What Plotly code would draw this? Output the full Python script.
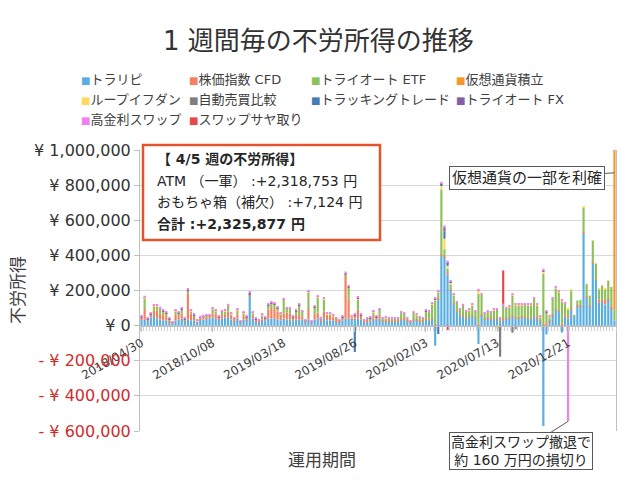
import plotly.graph_objects as go

# ---------------- data (values in thousand yen, weekly from 2018/04/30 to 2021/04/05) ----------------
weeks = list(range(154))
tick_weeks = [0, 23, 46, 69, 92, 115, 138]
tick_dates = ["2018/04/30", "2018/10/08", "2019/03/18", "2019/08/26",
              "2020/02/03", "2020/07/13", "2020/12/21"]

series_names = ["トラリピ", "株価指数 CFD", "トライオート ETF", "仮想通貨積立",
                "ループイフダン", "自動売買比較", "トラッキングトレード", "トライオート FX",
                "高金利スワップ", "スワップサヤ取り"]
series_colors = ["#5AADE0", "#F4805F", "#8FC15A", "#F7962A", "#FFD95C",
                 "#7F7F7F", "#4A7BB7", "#7E61A3", "#F27EF2", "#E64848"]

toraripi = [35, 35, 30, 45, 55, 40, 35, 30, 30, 20,
            12, 30, 35, 40, 25, 35, 30, 30, 20, 35,
            35, 40, 40, 45, 40, 35, 40, 45, 50, 35,
            25, 40, 15, 35, 30, 165, 40, 25, 20, 35,
            25, 40, 40, 40, 35, 30, 40, 35, 35, 25,
            35, 35, 35, 20, 35, 18, 35, 40, 25, 40,
            30, 30, 30, 25, 20, 30, 40, 40, 35, 40,
            40, 35, 20, 25, 25, 40, 30, 40, 25, 25,
            25, 25, 25, 25, 35, 35, 25, 15, 30, 30,
            25, 25, 35, 30, 40, -114, 150, 400, 390, 290,
            200, 120, 80, 50, 60, 40, 45, 55, 40, -105,
            60, 35, 40, 35, 40, 40, 20, 35, 40, 40,
            50, 40, 40, 45, 45, 40, 40, 50, 40, 25,
            -571, -50, 25, 60, 90, 80, -40, 50, 40, 90,
            50, 110, 110, 524, 160, 110, 352, 260, 130, 140,
            120, 150, 100, 30]

cfd = [10, 60, 5, 15, 30, 45, 35, 30, 20, 10,
       3, 35, 20, 30, 5, 150, 40, 20, 5, 10,
       12, 10, 12, 25, 25, 10, 20, 20, 30, 20,
       10, 25, 5, 20, 10, 5, 15, 8, 8, 15,
       12, 50, 65, 55, 45, 30, 30, 40, 35, 15,
       25, 30, 15, 5, 60, 3, 30, 35, 10, 40,
       25, 25, 15, 10, 8, 12, 240, 110, 10, 15,
       50, 15, 8, 10, 12, 15, 10, 20, 5, 5,
       3, 3, 3, 3, 5, 5, 3, 2, 5, 5,
       5, 3, 5, 5, 5, 5, 5, 5, 5, 15,
       5, 5, 5, 5, 5, 5, 5, 5, 5, 10,
       5, 5, 5, 5, 5, 5, 5, 5, 5, 5,
       5, 5, 5, 5, 5, 5, 5, 5, 5, 3,
       5, 20, 3, 5, 5, 5, 10, 15, 15, 5,
       2, 5, 5, 5, 5, 5, 5, 5, 20, 5,
       30, 5, 5, 0]

etf = [0, 62, 0, 3, 25, 25, 25, 19, 17, 5,
       0, 17, 14, 22, 5, 15, 13, 8, 0, 0,
       3, 5, 3, 23, 18, 2, 18, 18, 32, 11,
       3, 23, 2, 15, 7, 5, 15, 1, 0, 10,
       4, 24, 20, 26, 18, 6, 76, 20, 25, 7,
       20, 49, 28, 3, 95, 1, 39, 86, 3, 70,
       11, 11, 8, 3, 0, 5, 10, 65, 4, 2,
       60, 7, 0, 3, 4, 21, 7, 30, 10, 13,
       12, 12, 12, 12, 34, 28, 12, 4, 39, 24,
       15, 12, 40, 43, 78, 140, 35, 370, 40, 20,
       30, 45, 45, 35, 49, 33, 37, 56, 33, 170,
       110, 28, 33, 32, 42, 44, 17, 74, 52, 61,
       118, 71, 71, 66, 70, 71, 71, 99, 71, 21,
       290, 52, 21, 89, 118, 105, 130, 60, 38, 107,
       5, 28, 32, 145, 73, 56, 127, 89, 58, 82,
       58, 100, 115, 60]

crypto = [0, 0, 0, 0, 0, 0, 0, 0, 0, 0,
          0, 0, 0, 0, 0, 0, 0, 0, 0, 0,
          0, 0, 0, 0, 0, 0, 0, 0, 0, 0,
          0, 0, 0, 0, 0, 0, 0, 0, 0, 0,
          0, 0, 0, 0, 0, 0, 0, 0, 0, 0,
          0, 0, 0, 0, 0, 0, 0, 0, 0, 0,
          0, 0, 0, 0, 0, 0, 0, 0, 0, 0,
          0, 0, 0, 0, 0, 0, 0, 0, 0, 0,
          0, 0, 0, 0, 0, 0, 0, 0, 0, 0,
          0, 0, 0, 0, 0, 0, 0, 0, 0, 0,
          0, 0, 0, 0, 0, 0, 0, 0, 0, 0,
          0, 0, 0, 0, 0, 0, 0, 0, 0, 0,
          0, 0, 0, 0, 0, 0, 0, 0, 0, 0,
          0, 0, 0, 0, 0, 0, 0, 0, 0, 0,
          0, 0, 0, 0, 0, 0, 0, 0, 0, 0,
          0, 0, 0, 1100]

loop_ifdone = [2, 2, 2, 2, 2, 2, 2, 2, 2, 2,
               2, 2, 2, 2, 2, 2, 2, 2, 2, 2,
               2, 2, 2, 2, 2, 2, 2, 2, 2, 2,
               2, 2, 2, 2, 2, 3, 2, 2, 2, 2,
               2, 2, 2, 2, 2, 2, 2, 2, 2, 2,
               2, 2, 2, 2, 2, 2, 2, 2, 2, 2,
               2, 2, 2, 2, 2, 2, 2, 3, 2, 2,
               3, 2, 2, 2, 2, 2, 2, 2, 2, 2,
               2, 2, 2, 2, 2, 2, 2, 2, 2, 2,
               2, 2, 2, 2, 2, 5, 4, 25, 60, 15,
               8, 5, 2, 2, 2, 2, 2, 2, 2, 18,
               2, 2, 2, 2, 2, -20, 0, 2, 2, 2,
               2, 2, 2, 2, 2, 2, 2, 2, 2, 2,
               15, 5, 2, 2, 2, 2, 4, 2, 2, 2,
               0, 0, 0, 2, 0, 0, 2, 2, 2, 2,
               2, 2, 0, 0]

auto_compare = [0, 0, 0, 0, 0, 0, 0, 0, 0, 0,
                0, 0, 0, 0, 0, 0, 0, 0, 0, 0,
                0, 0, 0, 0, 0, 0, 0, 0, 0, 0,
                0, 0, 0, 0, 0, 0, 0, 0, 0, 0,
                0, 0, 0, 0, 0, 0, 0, 0, 0, 0,
                0, 0, 0, 0, 0, 0, 0, 0, 0, 0,
                0, 0, 0, 0, 0, 0, 0, 0, 0, 0,
                0, 0, 0, 0, 0, 0, 0, 0, 0, 0,
                0, 0, 0, 0, 0, 0, 0, 0, 0, 0,
                0, 0, 0, 0, 0, 0, 0, 0, 0, 0,
                0, 0, 0, 0, 0, 0, 0, 0, 0, 0,
                0, 0, 0, 0, 0, 0, -177, 0, 0, 0,
                -40, -20, 0, 0, 0, 0, 0, 0, 0, 0,
                0, 0, 0, 0, 0, 0, 0, 0, 0, 0,
                0, 0, 0, 0, 0, 0, 0, 0, 0, 0,
                0, 0, 0, 0]

tracking = [0, 0, 0, 0, 0, 0, 0, 0, 0, 0,
            0, 0, 0, 0, 0, 0, 0, 0, 0, 0,
            0, 0, 0, 0, 0, 0, 0, 0, 0, 0,
            0, 0, 0, 0, 0, 0, 0, 0, 0, 0,
            0, 0, 0, 0, 0, 0, 0, 0, 0, 0,
            0, 0, 0, 0, 0, 0, 0, 0, 0, 0,
            0, 0, 0, 0, 0, 0, 0, 0, 0, -150,
            0, 0, 0, 0, 0, 0, 0, 0, 0, 0,
            0, 0, 0, 0, 0, 0, 0, 0, 0, 0,
            0, 0, 0, 0, 0, 0, -48, 5, 40, 15,
            4, 0, 0, 0, 0, 0, 0, 0, 0, 0,
            0, 0, 0, 0, 0, 0, 0, 0, 0, 0,
            0, 0, 0, 0, 0, 0, 0, 0, 0, 0,
            0, 0, 0, 0, 0, 0, 0, 0, 0, 0,
            0, 0, 0, 0, 0, 0, 0, 0, 0, 0,
            0, 0, 0, 0]

triauto_fx = [3, 3, 3, 3, 3, 3, 3, 3, 3, 3,
              2, 3, 3, 3, 2, 2, 2, 2, 2, 2,
              2, 2, 2, 2, 2, 2, 2, 2, 2, 2,
              2, 2, 2, 2, 2, 10, 2, 2, 2, 2,
              2, 2, 2, 2, 2, 2, 2, 2, 2, 2,
              2, 2, 2, 2, 4, 2, 2, 2, 2, 2,
              2, 2, 2, 2, 2, 2, 6, 2, 0, 2,
              5, 2, 2, 2, 2, 2, 2, 2, 0, 0,
              0, 0, 0, 0, 0, 0, 0, 0, 0, 0,
              0, 0, 2, 0, 2, 4, 2, 4, 26, 6,
              2, 2, 0, 0, 0, 0, 0, 0, 0, 4,
              0, 0, 0, 0, 0, 0, 0, 0, 0, 0,
              0, 0, 0, 0, 0, 0, 0, 0, 0, 0,
              6, 3, 0, 0, 0, 0, 0, 0, 0, 0,
              0, 0, 0, 0, 0, 0, 0, 0, 0, 0,
              0, 0, 0, 0]

high_swap = [7, 8, 8, 8, 8, 8, 8, 8, 8, 8,
             6, 8, 8, 8, 6, 8, 8, 8, 6, 8,
             8, 8, 8, 8, 8, 6, 8, 8, 8, 6,
             6, 8, 6, 8, 6, 8, 8, 6, 6, 6,
             6, 6, 8, 8, 6, 6, 8, 6, 6, 6,
             6, 6, 8, 6, 8, 6, 6, 6, 6, 8,
             6, 6, 6, 6, 6, 6, 10, 8, 6, 6,
             8, 6, 6, 6, 6, 6, 6, 6, 6, 6,
             6, 6, 6, 6, 6, 6, 6, 6, 6, 6,
             6, 6, 6, 6, 6, 8, 8, 10, 10, 10,
             8, 8, 8, 8, 8, 6, 6, 6, 6, 8,
             8, 6, 6, 6, 6, 6, 6, 8, 6, 6,
             6, 6, 6, 6, 6, 6, 6, 6, 6, 6,
             8, 6, 6, 6, 8, 8, 8, 6, -545, 0,
             0, 0, 0, 0, 0, 0, 0, 0, 0, 0,
             0, 0, 0, 0]

swap_saya = [0, 0, 0, 0, 0, 0, 0, 0, 0, 0,
             0, 0, 0, 0, 0, 0, 0, 0, 0, 0,
             0, 0, 0, 0, 0, 0, 0, 0, 0, 0,
             0, 0, 0, 0, 0, 0, 0, 0, 0, 0,
             0, 0, 0, 0, 0, 0, 0, 0, 0, 0,
             0, 0, 0, 0, 0, 0, 0, 0, 0, 0,
             0, 0, 0, 0, 0, 0, 0, 0, 0, 0,
             0, 0, 0, 0, 0, 0, 0, 0, 0, 0,
             0, 0, 0, 0, 0, 0, 0, 0, 0, 0,
             0, 0, 0, 0, 0, 0, 0, 0, 0, -25,
             0, 0, 0, 0, 0, 0, 0, 0, 0, 0,
             0, 0, 0, 0, 0, 0, 0, 190, 0, 0,
             0, 0, 0, 0, 0, 0, 0, 0, 0, 0,
             0, 0, 0, 0, 0, 0, 0, 0, 0, 0,
             0, 0, 0, 0, 0, 0, 0, 0, 0, 0,
             0, 0, 0, 0]

series_values = [toraripi, cfd, etf, crypto, loop_ifdone, auto_compare,
                 tracking, triauto_fx, high_swap, swap_saya]

y_tickvals = [-600, -400, -200, 0, 200, 400, 600, 800, 1000]
y_ticktext = ['<span style="color:#D22B2B">- ¥ 600,000</span>',
              '<span style="color:#D22B2B">- ¥ 400,000</span>',
              '<span style="color:#D22B2B">- ¥ 200,000</span>',
              "¥ 0", "¥ 200,000", "¥ 400,000", "¥ 600,000", "¥ 800,000", "¥ 1,000,000"]

# ---------------- figure ----------------
# The page body adds an 8px offset, so the figure is a bit smaller and
# all placements below are given in screen pixels of the 640x480 window.
OFF = 8
W, H = 624, 464
PL, PR, PT, PB = 140, 616, 150, 431          # plot area in screen pixels
ML, MT = PL - OFF, PT - OFF
MR = W - ML - (PR - PL)
MB = H - MT - (PB - PT)


def px(x):
    return (x - PL) / (PR - PL)


def py(y):
    return (PB - y) / (PB - PT)


FONT = "DejaVu Sans, Noto Sans CJK JP, sans-serif"

fig = go.Figure()
for name, color, vals in zip(series_names, series_colors, series_values):
    fig.add_trace(go.Bar(x=weeks, y=vals, name=name, marker=dict(color=color, line=dict(width=0))))

annotations = []
annotations.append(dict(x=px(318), y=py(41), xref="paper", yref="paper", showarrow=False,
                        text="1 週間毎の不労所得の推移", font=dict(size=26, color="#333333"),
                        xanchor="center", yanchor="middle"))
leg_cols = [79, 187, 309, 454]
leg_rows = [79, 100, 120]
for i, (name, color) in enumerate(zip(series_names, series_colors)):
    r, c = divmod(i, 4)
    annotations.append(dict(x=px(leg_cols[c]), y=py(leg_rows[r]), xref="paper", yref="paper",
                            showarrow=False, xanchor="left", yanchor="middle",
                            text=f'<span style="color:{color};font-size:10px">■</span>{name}',
                            font=dict(size=13, color="#404040")))
annotations.append(dict(x=px(18), y=py(290), xref="paper", yref="paper", showarrow=False,
                        text="不労所得", textangle=-90, font=dict(size=17, color="#404040"),
                        xanchor="center", yanchor="middle"))
annotations.append(dict(x=px(322), y=py(460), xref="paper", yref="paper", showarrow=False,
                        text="運用期間", font=dict(size=17, color="#404040"),
                        xanchor="center", yanchor="middle"))
box_lines = [("<b>【 4/5 週の不労所得】</b>", 159),
             ("ATM （一軍） :+2,318,753 円", 181),
             ("おもちゃ箱（補欠） :+7,124 円", 202),
             ("<b>合計 :+2,325,877 円</b>", 224)]
for txt, yy in box_lines:
    annotations.append(dict(x=px(155), y=py(yy), xref="paper", yref="paper", showarrow=False,
                            text=txt, font=dict(size=14, color="#262626"),
                            xanchor="left", yanchor="middle"))
annotations.append(dict(x=153, y=870, xref="x", yref="y", ax=-87, ay=5,
                        showarrow=True, arrowhead=0, arrowwidth=1, arrowcolor="#595959",
                        text="仮想通貨の一部を利確", font=dict(size=15, color="#262626"),
                        bordercolor="#595959", borderwidth=1, borderpad=2, bgcolor="white"))
annotations.append(dict(x=138, y=-545, xref="x", yref="y", ax=-47, ay=30,
                        showarrow=True, arrowhead=0, arrowwidth=1, arrowcolor="#595959",
                        text="高金利スワップ撤退で<br>約 160 万円の損切り",
                        font=dict(size=14, color="#262626"),
                        bordercolor="#595959", borderwidth=1, borderpad=1, bgcolor="white"))

shapes = [dict(type="rect", xref="paper", yref="paper",
               x0=px(143), x1=px(380), y0=py(240), y1=py(145),
               line=dict(color="#E2542C", width=2.5), fillcolor="white", layer="above")]

fig.update_layout(
    width=W, height=H, margin=dict(l=ML, r=MR, t=MT, b=MB),
    barmode="relative", bargap=0.3, showlegend=False,
    plot_bgcolor="white", paper_bgcolor="white",
    font=dict(family=FONT, color="#404040"),
    annotations=annotations, shapes=shapes,
    xaxis=dict(range=[-0.5, 153.5], tickmode="array", tickvals=tick_weeks, ticktext=tick_dates,
               tickangle=-30, tickfont=dict(size=12, color="#404040"),
               anchor="free", position=(0 - (-600)) / 1600,
               showline=True, linecolor="#bfbfbf", ticks="outside", ticklen=5, tickcolor="#bfbfbf",
               showgrid=False, zeroline=False,
               minor=dict(ticks="outside", dtick=1, tick0=0.5, ticklen=4, tickcolor="#cfcfcf")),
    yaxis=dict(range=[-600, 1000], tickmode="array", tickvals=y_tickvals, ticktext=y_ticktext,
               tickfont=dict(size=16, color="#333333"),
               showgrid=True, gridcolor="#d9d9d9", gridwidth=1, zeroline=False,
               showline=True, linecolor="#bfbfbf", mirror=True,
               ticks="outside", ticklen=5, tickcolor="#bfbfbf"),
)

fig.write_html("out.html")
